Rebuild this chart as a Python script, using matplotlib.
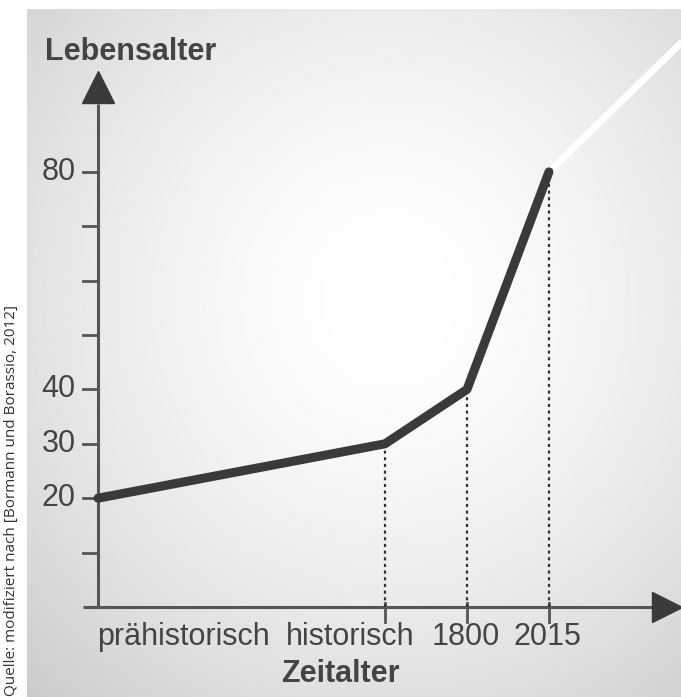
import numpy as np
import matplotlib.pyplot as plt

# Daten (schematisch): Zeitalter-Position und Lebensalter
zeitalter = ['prähistorisch', 'historisch', '1800', '2015']
position = [0.0, 3.5, 4.5, 5.5]
lebensalter = [20, 30, 40, 80]
# weiterer Trend nach 2015 (weiße Linie)
trend_pos = [5.5, 7.4]
trend_alter = [80, 108]
y_ticks = [10, 20, 30, 40, 50, 60, 70, 80]
y_labels = ['', '20', '30', '40', '', '', '', '80']
quelle = 'Quelle: modifiziert nach [Bormann und Borassio, 2012]'

plt.rcParams['font.family'] = ['Liberation Sans', 'DejaVu Sans']

fig = plt.figure(figsize=(6.81, 6.97), dpi=100)
ax = fig.add_axes([0, 0, 1, 1])
ax.set_xlim(-1.195, 7.11)
ax.set_ylim(-16.55, 111.6)
ax.axis('off')

# Hintergrund mit radialem Verlauf
px_x = np.linspace(27, 681, 330)
px_y = np.linspace(10, 697, 350)
gx, gy = np.meshgrid(px_x, px_y)
d = np.sqrt(((gx - 390) / 1.0) ** 2 + ((gy - 300) / 1.05) ** 2) / 430
val = 1.0 - 0.15 * np.clip(d, 0, 1.4) ** 1.6
ax.imshow(val, cmap='gray', vmin=0, vmax=1, aspect='auto',
          extent=[(27 - 98) / 82, (681 - 98) / 82, (607 - 697) / 5.4375, (607 - 10) / 5.4375],
          origin='upper', zorder=0, interpolation='bilinear')

axis_col = '#555555'
# Achsen
ax.plot([0, 0], [0, 92.5], color=axis_col, lw=2.2, zorder=2, solid_capstyle='butt')
ax.plot([-0.18, 6.76], [0, 0], color=axis_col, lw=2.2, zorder=2, solid_capstyle='butt')
ax.plot([0], [95.6], marker='^', markersize=22.5, color='#3a3a3a', zorder=3)
ax.plot([6.94], [0], marker='>', markersize=21.5, color='#3a3a3a', zorder=3)

# Y-Ticks
for t, lab in zip(y_ticks, y_labels):
    ax.plot([-0.18, 0], [t, t], color=axis_col, lw=2.0, zorder=2)
    if lab:
        ax.text(-0.27, t, lab, ha='right', va='center', fontsize=22, color='#444444')

# X-Ticks und gepunktete Hilfslinien
for p, a in zip(position[1:], lebensalter[1:]):
    ax.plot([p, p], [0.7, -2.8], color=axis_col, lw=2.0, zorder=2)
    ax.plot([p, p], [0, a], color='#333333', lw=1.6, ls=(0, (1.4, 1.6)), zorder=2)

# Verlauf
ax.plot(trend_pos, trend_alter, color='white', lw=5, solid_capstyle='butt', zorder=3)
ax.plot(position, lebensalter, color='#3a3a3a', lw=6.5, solid_capstyle='round',
        solid_joinstyle='round', zorder=4)

# Beschriftungen
label_x = [1.04, 3.07, 4.48, 5.48]
for lx, z in zip(label_x, zeitalter):
    ax.text(lx, -5.6, z, ha='center', va='center', fontsize=22, color='#444444')
ax.text(2.95, -12.3, 'Zeitalter', ha='center', va='center', fontsize=22,
        fontweight='bold', color='#444444')
ax.text(-0.646, 102.1, 'Lebensalter', ha='left', va='center', fontsize=22,
        fontweight='bold', color='#444444')

fig.text(12 / 681, 0.002, quelle, rotation=90, ha='center', va='bottom',
         fontsize=11.0, color='#333333', family=['Open Sans', 'DejaVu Sans'])

fig.savefig('out.png', dpi=100, facecolor='white')
